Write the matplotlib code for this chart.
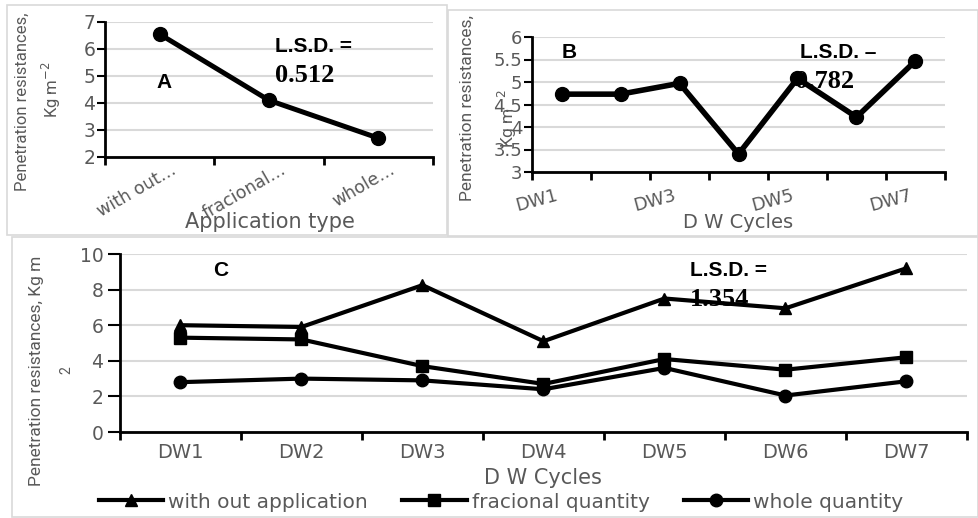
import numpy as np
import matplotlib
matplotlib.use("Agg")
import matplotlib.pyplot as plt
import matplotlib.transforms as mtransforms
from matplotlib.patches import Rectangle

# ------------------------------------------------------------------
# data
# ------------------------------------------------------------------
app_types = ["with out\u2026", "fracional\u2026", "whole\u2026"]
app_values = [6.55, 4.1, 2.7]

cycles = ["DW1", "DW2", "DW3", "DW4", "DW5", "DW6", "DW7"]
cycle_values = [4.73, 4.73, 4.97, 3.4, 5.08, 4.22, 5.47]

without_app = [6.0, 5.9, 8.25, 5.1, 7.5, 6.95, 9.2]
fracional_q = [5.3, 5.2, 3.7, 2.7, 4.1, 3.5, 4.2]
whole_q = [2.8, 3.0, 2.9, 2.4, 3.6, 2.05, 2.85]

W, H = 979, 518
GREY = "#595959"
GRID = "#d9d9d9"
TICKFONT = "DejaVu Sans"
NARROW = ["Roboto", "DejaVu Sans"]

fig = plt.figure(figsize=(W / 100, H / 100), dpi=100)


def px_rect(x0, y0, x1, y1):
    # pixel box (top-left origin) -> figure fraction rect
    return [x0 / W, 1 - y1 / H, (x1 - x0) / W, (y1 - y0) / H]


def fx(x):
    return x / W


def fy(y):
    return 1 - y / H


# panel frames
for (x0, y0, x1, y1) in [(7, 5, 447, 235), (448, 10, 978, 236), (12, 237, 978, 517)]:
    fig.patches.append(Rectangle((fx(x0), fy(y1)), fx(x1) - fx(x0), fy(y0) - fy(y1),
                                 transform=fig.transFigure, fill=False,
                                 edgecolor=GRID, linewidth=1.2, zorder=0))


def style_axes(ax, n, ylim, yticks, ytick_len, ypad, lsize):
    ax.set_xlim(-0.5, n - 0.5)
    ax.set_ylim(*ylim)
    ax.set_yticks(yticks)
    for s in ["top", "right"]:
        ax.spines[s].set_visible(False)
    ax.spines["left"].set_linewidth(2)
    ax.spines["bottom"].set_linewidth(2)
    ax.yaxis.grid(True, color=GRID, linewidth=1.5, zorder=0)
    ax.set_axisbelow(True)
    ax.tick_params(axis="y", length=ytick_len, width=1.5, color="black",
                   pad=ypad, labelsize=lsize, labelcolor=GREY)
    ax.set_xticks(np.arange(n))
    ax.set_xticks(np.arange(n + 1) - 0.5, minor=True)
    ax.tick_params(axis="x", which="major", length=0, labelcolor=GREY)
    ax.tick_params(axis="x", which="minor", length=6, width=2, color="black")
    for lab in ax.get_yticklabels():
        lab.set_fontfamily(TICKFONT)


def shift_labels(ax, dx, dy):
    off = mtransforms.ScaledTranslation(dx / 100, -dy / 100, fig.dpi_scale_trans)
    for lab in ax.get_xticklabels():
        lab.set_transform(lab.get_transform() + off)


# ------------------------------------------------------------------
# panel A
# ------------------------------------------------------------------
axA = fig.add_axes(px_rect(105, 22, 433, 157))
style_axes(axA, 3, (2, 7), np.arange(2, 8, 1), 6, 1, 13.5)
axA.plot(np.arange(3), app_values, "k-", marker="o", markersize=10,
         linewidth=3.6, zorder=3, clip_on=False)
axA.set_xticklabels(app_types, rotation=30, ha="right", rotation_mode="anchor",
                    fontsize=12.5, family=TICKFONT)
axA.tick_params(axis="x", which="major", pad=4)
shift_labels(axA, 11, -2)
fig.text(fx(270), fy(222), "Application type", ha="center", va="center",
         fontsize=15, color=GREY, family=TICKFONT)
fig.text(fx(22), fy(102), "Penetration resistances,", rotation=90, ha="center",
         va="center", fontsize=12, color=GREY, family=NARROW)
fig.text(fx(51), fy(90), "Kg m$^{-2}$", rotation=90, ha="center",
         va="center", fontsize=12, color=GREY, family=NARROW)
fig.text(fx(164), fy(82), "A", ha="center", va="center", fontsize=15,
         fontweight="bold", family="Liberation Sans")
fig.text(fx(275), fy(46), "L.S.D. =", ha="left", va="center", fontsize=15,
         fontweight="bold", family="Liberation Sans")
fig.text(fx(275), fy(75), "0.512", ha="left", va="center", fontsize=19,
         fontweight="bold", family="Liberation Serif")

# ------------------------------------------------------------------
# panel B
# ------------------------------------------------------------------
axB = fig.add_axes(px_rect(532, 37, 945, 172))
style_axes(axB, 7, (3, 6), np.arange(3, 6.01, 0.5), 6, 1, 13)
axB.set_yticklabels(["3", "3.5", "4", "4.5", "5", "5.5", "6"])
for lab in axB.get_yticklabels():
    lab.set_fontfamily(TICKFONT)
axB.plot(np.arange(7), cycle_values, "k-", marker="o", markersize=10,
         linewidth=4, zorder=3, clip_on=False)
b_labels = [c if i % 2 == 0 else "" for i, c in enumerate(cycles)]
axB.set_xticklabels(b_labels, rotation=15, ha="right", rotation_mode="anchor",
                    fontsize=13, family=TICKFONT)
axB.tick_params(axis="x", which="major", pad=10)
shift_labels(axB, -6, 0)
fig.text(fx(738), fy(222), "D W Cycles", ha="center", va="center",
         fontsize=14, color=GREY, family=TICKFONT)
fig.text(fx(467), fy(108), "Penetration resistances,", rotation=90, ha="center",
         va="center", fontsize=12.5, color=GREY, family=NARROW)
fig.text(fx(507), fy(118), "Kg m$^{-2}$", rotation=90, ha="center",
         va="center", fontsize=12.5, color=GREY, family=NARROW)
fig.text(fx(569), fy(52), "B", ha="center", va="center", fontsize=15,
         fontweight="bold", family="Liberation Sans")
fig.text(fx(800), fy(52), "L.S.D. \u2013", ha="left", va="center", fontsize=15,
         fontweight="bold", family="Liberation Sans")
fig.text(fx(795), fy(81), "0.782", ha="left", va="center", fontsize=19,
         fontweight="bold", family="Liberation Serif", zorder=1)

# ------------------------------------------------------------------
# panel C
# ------------------------------------------------------------------
axC = fig.add_axes(px_rect(120, 254, 967, 432))
style_axes(axC, 7, (0, 10), np.arange(0, 11, 2), 9, 3, 13.5)
x = np.arange(7)
axC.plot(x, without_app, "k-", marker="^", markersize=9, linewidth=3,
         zorder=3, label="with out application")
axC.plot(x, fracional_q, "k-", marker="s", markersize=9, linewidth=3,
         zorder=3, label="fracional quantity")
axC.plot(x, whole_q, "k-", marker="o", markersize=9, linewidth=3,
         zorder=3, label="whole quantity")
axC.set_xticklabels(cycles, fontsize=14, family=TICKFONT)
axC.tick_params(axis="x", which="major", pad=8)
fig.text(fx(543), fy(478), "D W Cycles", ha="center", va="center",
         fontsize=15, color=GREY, family=TICKFONT)
fig.text(fx(37), fy(371), "Penetration resistances, Kg m", rotation=90,
         ha="center", va="center", fontsize=12.5, color=GREY, family=NARROW)
fig.text(fx(66), fy(370), "2", rotation=90, ha="center", va="center",
         fontsize=10, color=GREY, family=NARROW)
fig.text(fx(221), fy(270), "C", ha="center", va="center", fontsize=15,
         fontweight="bold", family="Liberation Sans")
fig.text(fx(690), fy(270), "L.S.D. =", ha="left", va="center", fontsize=15,
         fontweight="bold", family="Liberation Sans")
axC.text(fx(690), fy(300), "1.354", ha="left", va="center", fontsize=19,
         fontweight="bold", family="Liberation Serif",
         transform=fig.transFigure, zorder=1)

leg = fig.legend(loc="center", bbox_to_anchor=(fx(501), fy(502)), ncol=3,
                 frameon=False, handlelength=3.2, handletextpad=0.25,
                 columnspacing=1.7, prop={"family": TICKFONT, "size": 14.5})
for txt in leg.get_texts():
    txt.set_color(GREY)

fig.savefig("out.png", dpi=100)
